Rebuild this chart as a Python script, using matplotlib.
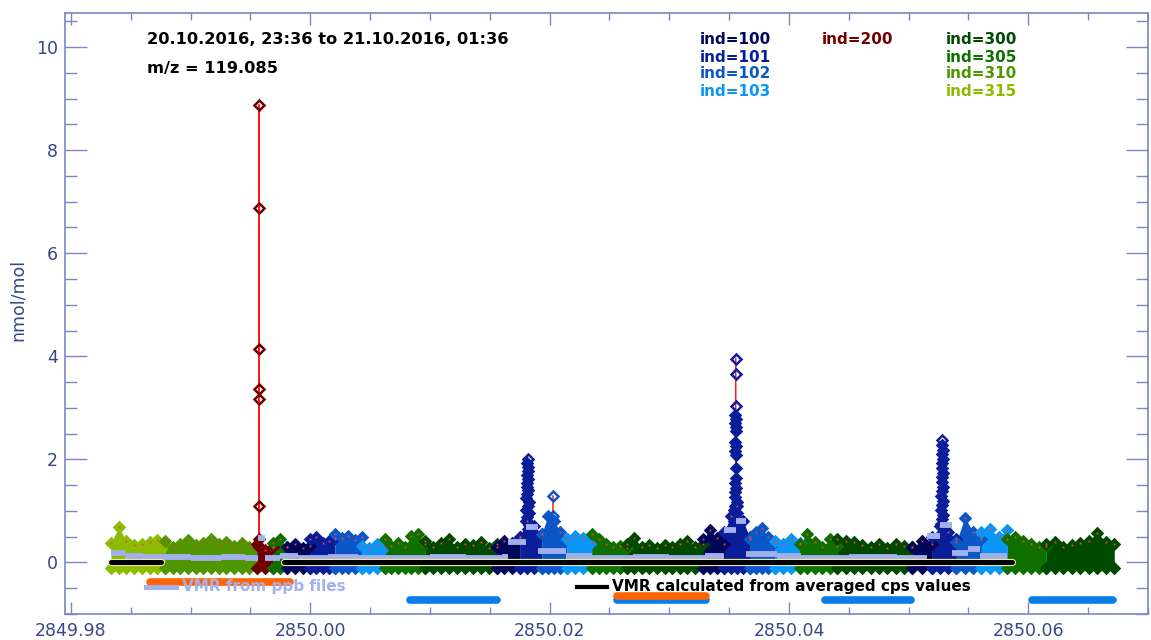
import numpy as np
import matplotlib
matplotlib.use("Agg")
import matplotlib.pyplot as plt
from matplotlib.lines import Line2D
from matplotlib.ticker import MultipleLocator
import matplotlib.patheffects as pe

# ---------------------------------------------------------------- data
# measurement sequence: index of each block and its start time (fractional day)
seg_ind = [315, 310, 200, 305, 100, 101, 102, 103, 305, 300,
           100, 101, 102, 103, 305, 300,
           100, 101, 102, 103, 305, 300,
           100, 101, 102, 103, 305, 300]
seg_start = [2849.98334, 2849.98785, 2849.99553, 2849.99687, 2849.99804,
             2850.00000, 2850.00205, 2850.00430, 2850.00622, 2850.00956,
             2850.01557, 2850.01749, 2850.01933, 2850.02142, 2850.02351,
             2850.02643, 2850.03278, 2850.03461, 2850.03670, 2850.03879,
             2850.04088, 2850.04405, 2850.05031, 2850.05198, 2850.05399,
             2850.05608, 2850.05825, 2850.06150]
seg_stop_last = 2850.06718

# upper envelope of the VMR scatter within each block (nmol/mol)
seg_top = [
    [0.38, 0.68, 0.42, 0.33, 0.36, 0.40, 0.44, 0.34],
    [0.42, 0.30, 0.36, 0.44, 0.33, 0.38, 0.45, 0.35, 0.40, 0.32, 0.37, 0.30, 0.36],
    [0.35, 0.25, 0.30],
    [0.38, 0.45, 0.30],
    [0.30, 0.36, 0.28, 0.32],
    [0.45, 0.50, 0.38, 0.42, 0.48],
    [0.55, 0.48, 0.52, 0.44, 0.50],
    [0.32, 0.28, 0.35, 0.30],
    [0.45, 0.32, 0.38, 0.30, 0.52, 0.55, 0.35],
    [0.42, 0.30, 0.38, 0.45, 0.30, 0.36, 0.33, 0.40, 0.28, 0.35],
    [0.30, 0.42, 0.38, 0.50],
    [0.50, 0.80, 0.70, 0.55],
    [0.55, 0.90, 0.80, 0.60, 0.45],
    [0.45, 0.52, 0.48, 0.40],
    [0.55, 0.45, 0.35, 0.30, 0.32, 0.28],
    [0.36, 0.48, 0.30, 0.34, 0.28, 0.33, 0.30, 0.36, 0.42, 0.30, 0.35],
    [0.45, 0.62, 0.48, 0.35],
    [0.60, 0.90, 1.10, 0.80, 0.50],
    [0.45, 0.60, 0.66, 0.50, 0.40],
    [0.42, 0.36, 0.45, 0.38],
    [0.35, 0.55, 0.40, 0.30, 0.45, 0.32],
    [0.46, 0.42, 0.40, 0.33, 0.30, 0.36, 0.28, 0.35, 0.32, 0.30],
    [0.30, 0.42, 0.35],
    [0.50, 0.70, 0.60, 0.45],
    [0.40, 0.87, 0.60, 0.45],
    [0.60, 0.65, 0.50, 0.62],
    [0.45, 0.50, 0.42, 0.35, 0.30, 0.32],
    [0.35, 0.40, 0.30, 0.33, 0.38, 0.42, 0.58, 0.40, 0.35],
]
seg_floor = -0.10

# isolated high values (spikes); the first spike_open points are drawn open
spike_ind = [200, 101, 102, 101, 101]
spike_open = [8, 1, 2, 3, 1]
spike_x = [
    [2849.99570] * 8,
    [2850.01817, 2850.01812, 2850.01820, 2850.01815, 2850.01810, 2850.01822,
     2850.01814, 2850.01808, 2850.01820, 2850.01813, 2850.01806, 2850.01824,
     2850.01815, 2850.01805, 2850.01826, 2850.01812, 2850.01803, 2850.01828,
     2850.01815],
    [2850.02025, 2850.02025],
    [2850.03555, 2850.03555, 2850.03555, 2850.03552, 2850.03558, 2850.03550,
     2850.03556, 2850.03553, 2850.03550, 2850.03557, 2850.03552, 2850.03555,
     2850.03555, 2850.03553, 2850.03548, 2850.03560, 2850.03552, 2850.03546,
     2850.03562, 2850.03550, 2850.03544, 2850.03564, 2850.03552, 2850.03542,
     2850.03566, 2850.03552],
    [2850.05282, 2850.05280, 2850.05284, 2850.05279, 2850.05285, 2850.05281,
     2850.05277, 2850.05286, 2850.05280, 2850.05276, 2850.05288, 2850.05281,
     2850.05274, 2850.05289, 2850.05280, 2850.05272, 2850.05291, 2850.05281,
     2850.05270, 2850.05292],
]
spike_y = [
    [0.30, 8.87, 6.87, 4.15, 3.37, 3.18, 1.10, 0.45],
    [2.00, 1.93, 1.86, 1.78, 1.70, 1.62, 1.55, 1.47, 1.40, 1.32, 1.25, 1.17,
     1.10, 1.02, 0.95, 0.88, 0.80, 0.72, 0.65],
    [1.28, 0.90],
    [3.95, 3.66, 3.03, 2.86, 2.78, 2.70, 2.62, 2.55, 2.33, 2.25, 2.17, 2.08,
     1.84, 1.63, 1.55, 1.45, 1.36, 1.27, 1.18, 1.10, 1.02, 0.95, 0.88, 0.80,
     0.72, 0.65],
    [2.37, 2.28, 2.19, 2.10, 2.01, 1.92, 1.83, 1.74, 1.65, 1.56, 1.47, 1.38,
     1.29, 1.20, 1.11, 1.02, 0.93, 0.84, 0.75, 0.66],
]

# VMR from ppb files (step values)
ppb_x = [2849.98334, 2849.98450, 2849.98600, 2849.98800, 2849.99000,
         2849.99250, 2849.99450, 2849.99560, 2849.99620, 2849.99750,
         2849.99900, 2850.00150, 2850.00400, 2850.00700, 2850.01000,
         2850.01300, 2850.01600, 2850.01650, 2850.01800, 2850.01900,
         2850.02140, 2850.02350, 2850.02700, 2850.03000, 2850.03300,
         2850.03460, 2850.03560, 2850.03640, 2850.03900, 2850.04100,
         2850.04500, 2850.04900, 2850.05150, 2850.05260, 2850.05360,
         2850.05500, 2850.05600]
ppb_y = [0.18, 0.12, 0.11, 0.10, 0.09,
         0.10, 0.09, 0.47, 0.08, 0.12,
         0.09, 0.10, 0.09, 0.09, 0.10,
         0.09, 0.11, 0.39, 0.68, 0.22,
         0.13, 0.09, 0.10, 0.09, 0.12,
         0.62, 0.80, 0.17, 0.12, 0.09,
         0.10, 0.09, 0.52, 0.72, 0.19,
         0.27, 0.12]
ppb_end = 2850.05825

# VMR calculated from averaged cps values
avg_x = [2849.98334, 2849.98752, np.nan, 2849.99779, 2850.05866]
avg_y = [0.0, 0.0, np.nan, 0.0, 0.0]

# calibration / zero periods
blue_start = [2850.00831, 2850.02560, 2850.04305, 2850.06033]
blue_stop = [2850.01557, 2850.03303, 2850.05023, 2850.06710]
blue_level = -0.72
orange_start = [2849.98660, 2850.02560]
orange_stop = [2849.99829, 2850.03303]
orange_level = [-0.37, -0.66]

ind_colors = {100: '#00065a', 101: '#0a1e9a', 102: '#0a58c8', 103: '#0a96f5',
              200: '#700000', 300: '#004a00', 305: '#0f7000', 310: '#509600',
              315: '#8cbc00'}
legend_cols = [[100, 101, 102, 103], [200], [300, 305, 310, 315]]

x_major = [2849.98, 2850.00, 2850.02, 2850.04, 2850.06]
y_major = [0, 2, 4, 6, 8, 10]

# ---------------------------------------------------------------- style
W, H = 1151, 640
axis_col = '#7b85c5'
label_col = '#3a468c'
lavender = '#a3b0ee'
line_red = '#ff1a1a'


def fx(px):
    return px / W


def fy(py):
    return 1 - py / H


fig = plt.figure(figsize=(W / 100, H / 100), dpi=100)
ax = fig.add_axes([fx(65), fy(614), fx(1148) - fx(65), fy(13) - fy(614)])
ax.set_xlim(2849.9795, 2850.0700)
ax.set_ylim(-1.0, 10.66)

for s in ax.spines.values():
    s.set_color(axis_col)
    s.set_linewidth(1.2)

ax.set_xticks(x_major)
ax.set_xticklabels([f"{v:.2f}" for v in x_major])
ax.xaxis.set_minor_locator(MultipleLocator(0.005))
ax.set_yticks(y_major)
ax.set_yticklabels([str(v) for v in y_major])
ax.yaxis.set_minor_locator(MultipleLocator(0.5))
ax.tick_params(which='both', direction='in', top=True, right=True,
               color=axis_col, labelcolor=label_col, labelsize=12.5, width=1.0)
ax.tick_params(axis='x', which='major', length=8.6, pad=6)
ax.tick_params(axis='x', which='minor', length=5.0)
ax.tick_params(axis='y', which='major', length=15.8, pad=5)
ax.tick_params(axis='y', which='minor', length=8.6)

mk = dict(ls='none', marker='D', ms=4.6, mew=1.8)
dot = dict(ls='none', marker='s', ms=1.3, mew=0, color='#ff3c3c')

# ---------------------------------------------------------------- blocks
seg_stop = seg_start[1:] + [seg_stop_last]
for ind, x0, x1, tops in zip(seg_ind, seg_start, seg_stop, seg_top):
    c = ind_colors[ind]
    xs = np.linspace(x0, x1, len(tops))
    ax.fill_between(xs, seg_floor, tops, color=c, lw=0, zorder=2)
    ax.plot(xs, tops, mec=c, mfc=c, zorder=3, **mk)
    ax.plot(xs, tops, zorder=3.1, **dot)
    ax.plot(xs, np.full(len(tops), seg_floor), mec=c, mfc=c, zorder=3, **mk)

# ---------------------------------------------------------------- spikes
for ind, n_open, xs, ys in zip(spike_ind, spike_open, spike_x, spike_y):
    c = ind_colors[ind]
    ax.plot(xs, ys, color=line_red, lw=1.1, zorder=2.8)
    ax.plot(xs[n_open:], ys[n_open:], mec=c, mfc=c, zorder=3, **mk)
    ax.plot(xs[:n_open], ys[:n_open], mec=c, mfc='none', zorder=3.2, **mk)

# ---------------------------------------------------------------- VMR lines
ppb_next = ppb_x[1:] + [ppb_end]
ax.hlines(ppb_y, ppb_x, ppb_next, color=lavender, lw=4.2, zorder=4)
ax.plot(avg_x, avg_y, color='black', lw=3.6, zorder=5, solid_capstyle='round',
        path_effects=[pe.withStroke(linewidth=5.2, foreground='#ece8a0')])

# ---------------------------------------------------------------- bars
for x0, x1 in zip(blue_start, blue_stop):
    ax.plot([x0, x1], [blue_level, blue_level], color='#0a7ee6', lw=5.5,
            solid_capstyle='round', zorder=4)
for x0, x1, lv in zip(orange_start, orange_stop, orange_level):
    ax.plot([x0, x1], [lv, lv], color='#ff6400', lw=5.5,
            solid_capstyle='round', zorder=4.5)

# ---------------------------------------------------------------- texts
fig.text(fx(18), fy(300), 'nmol/mol', rotation=90, ha='center', va='center',
         fontsize=12.5, color=label_col)
fig.text(fx(147), fy(40), '20.10.2016, 23:36 to 21.10.2016, 01:36',
         ha='left', va='center', fontsize=11.7, fontweight='bold', color='black')
fig.text(fx(147), fy(68), 'm/z = 119.085',
         ha='left', va='center', fontsize=11.7, fontweight='bold', color='black')

col_px = [700, 822, 946]
for cx, col in zip(col_px, legend_cols):
    for r, ind in enumerate(col):
        fig.text(fx(cx), fy(40 + 17 * r), f'ind={ind}', ha='left', va='center',
                 fontsize=11, fontweight='bold', color=ind_colors[ind])

fig.add_artist(Line2D([fx(146), fx(176)], [fy(587), fy(587)], lw=3.6,
                      color=lavender, transform=fig.transFigure))
fig.text(fx(182), fy(587), 'VMR from ppb files', ha='left', va='center',
         fontsize=11, fontweight='bold', color=lavender)
fig.add_artist(Line2D([fx(577), fx(607)], [fy(587), fy(587)], lw=3.0,
                      color='black', transform=fig.transFigure))
fig.text(fx(612), fy(587), 'VMR calculated from averaged cps values',
         ha='left', va='center', fontsize=11, fontweight='bold', color='black')

fig.savefig('out.png', dpi=100, facecolor='white')
